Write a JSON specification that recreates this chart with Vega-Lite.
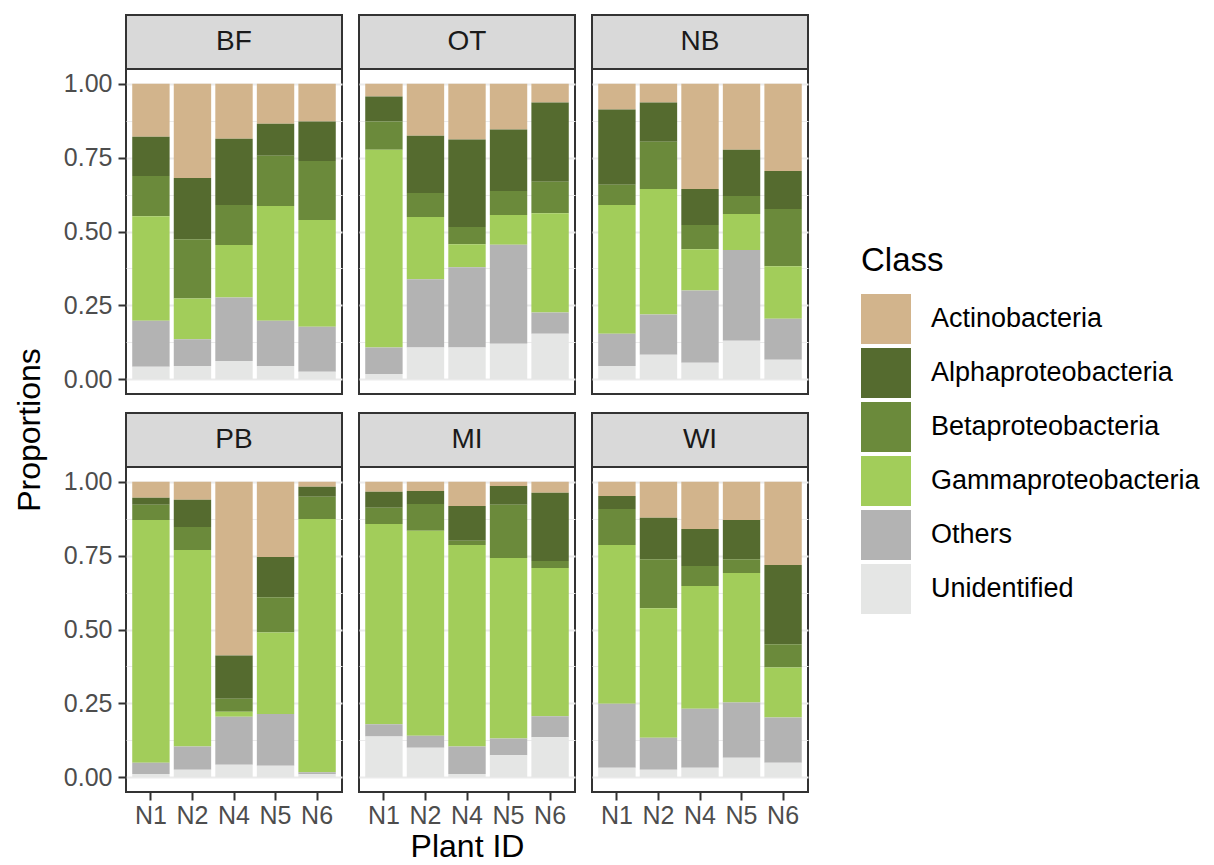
{
"$schema": "https://vega.github.io/schema/vega-lite/v6.json",
"padding": {"left": 14, "top": 14, "right": 0, "bottom": 0},
"autosize": {"type": "pad"},
"datasets": {"bars": [
{"Site":"BF","Plant":"N1","Actinobacteria":0.179,"Alphaproteobacteria":0.133,"Betaproteobacteria":0.136,"Gammaproteobacteria":0.354,"Others":0.156,"Unidentified":0.042},
{"Site":"BF","Plant":"N2","Actinobacteria":0.319,"Alphaproteobacteria":0.207,"Betaproteobacteria":0.201,"Gammaproteobacteria":0.138,"Others":0.090,"Unidentified":0.045},
{"Site":"BF","Plant":"N4","Actinobacteria":0.186,"Alphaproteobacteria":0.224,"Betaproteobacteria":0.136,"Gammaproteobacteria":0.177,"Others":0.215,"Unidentified":0.062},
{"Site":"BF","Plant":"N5","Actinobacteria":0.135,"Alphaproteobacteria":0.109,"Betaproteobacteria":0.170,"Gammaproteobacteria":0.388,"Others":0.153,"Unidentified":0.045},
{"Site":"BF","Plant":"N6","Actinobacteria":0.128,"Alphaproteobacteria":0.133,"Betaproteobacteria":0.200,"Gammaproteobacteria":0.361,"Others":0.153,"Unidentified":0.025},
{"Site":"OT","Plant":"N1","Actinobacteria":0.043,"Alphaproteobacteria":0.085,"Betaproteobacteria":0.095,"Gammaproteobacteria":0.670,"Others":0.089,"Unidentified":0.018},
{"Site":"OT","Plant":"N2","Actinobacteria":0.176,"Alphaproteobacteria":0.194,"Betaproteobacteria":0.081,"Gammaproteobacteria":0.211,"Others":0.231,"Unidentified":0.107},
{"Site":"OT","Plant":"N4","Actinobacteria":0.189,"Alphaproteobacteria":0.296,"Betaproteobacteria":0.058,"Gammaproteobacteria":0.078,"Others":0.272,"Unidentified":0.107},
{"Site":"OT","Plant":"N5","Actinobacteria":0.155,"Alphaproteobacteria":0.208,"Betaproteobacteria":0.081,"Gammaproteobacteria":0.101,"Others":0.335,"Unidentified":0.120},
{"Site":"OT","Plant":"N6","Actinobacteria":0.063,"Alphaproteobacteria":0.269,"Betaproteobacteria":0.106,"Gammaproteobacteria":0.336,"Others":0.072,"Unidentified":0.154},
{"Site":"NB","Plant":"N1","Actinobacteria":0.087,"Alphaproteobacteria":0.255,"Betaproteobacteria":0.068,"Gammaproteobacteria":0.436,"Others":0.109,"Unidentified":0.045},
{"Site":"NB","Plant":"N2","Actinobacteria":0.063,"Alphaproteobacteria":0.133,"Betaproteobacteria":0.160,"Gammaproteobacteria":0.425,"Others":0.136,"Unidentified":0.083},
{"Site":"NB","Plant":"N4","Actinobacteria":0.356,"Alphaproteobacteria":0.122,"Betaproteobacteria":0.082,"Gammaproteobacteria":0.140,"Others":0.244,"Unidentified":0.056},
{"Site":"NB","Plant":"N5","Actinobacteria":0.223,"Alphaproteobacteria":0.157,"Betaproteobacteria":0.061,"Gammaproteobacteria":0.122,"Others":0.307,"Unidentified":0.130},
{"Site":"NB","Plant":"N6","Actinobacteria":0.295,"Alphaproteobacteria":0.129,"Betaproteobacteria":0.194,"Gammaproteobacteria":0.177,"Others":0.139,"Unidentified":0.066},
{"Site":"PB","Plant":"N1","Actinobacteria":0.054,"Alphaproteobacteria":0.024,"Betaproteobacteria":0.051,"Gammaproteobacteria":0.822,"Others":0.038,"Unidentified":0.011},
{"Site":"PB","Plant":"N2","Actinobacteria":0.061,"Alphaproteobacteria":0.092,"Betaproteobacteria":0.078,"Gammaproteobacteria":0.665,"Others":0.079,"Unidentified":0.025},
{"Site":"PB","Plant":"N4","Actinobacteria":0.588,"Alphaproteobacteria":0.146,"Betaproteobacteria":0.044,"Gammaproteobacteria":0.017,"Others":0.163,"Unidentified":0.042},
{"Site":"PB","Plant":"N5","Actinobacteria":0.255,"Alphaproteobacteria":0.136,"Betaproteobacteria":0.119,"Gammaproteobacteria":0.276,"Others":0.175,"Unidentified":0.039},
{"Site":"PB","Plant":"N6","Actinobacteria":0.017,"Alphaproteobacteria":0.034,"Betaproteobacteria":0.075,"Gammaproteobacteria":0.857,"Others":0.007,"Unidentified":0.010},
{"Site":"MI","Plant":"N1","Actinobacteria":0.034,"Alphaproteobacteria":0.054,"Betaproteobacteria":0.055,"Gammaproteobacteria":0.678,"Others":0.041,"Unidentified":0.138},
{"Site":"MI","Plant":"N2","Actinobacteria":0.031,"Alphaproteobacteria":0.044,"Betaproteobacteria":0.091,"Gammaproteobacteria":0.694,"Others":0.040,"Unidentified":0.100},
{"Site":"MI","Plant":"N4","Actinobacteria":0.082,"Alphaproteobacteria":0.118,"Betaproteobacteria":0.014,"Gammaproteobacteria":0.682,"Others":0.093,"Unidentified":0.011},
{"Site":"MI","Plant":"N5","Actinobacteria":0.014,"Alphaproteobacteria":0.064,"Betaproteobacteria":0.180,"Gammaproteobacteria":0.611,"Others":0.057,"Unidentified":0.074},
{"Site":"MI","Plant":"N6","Actinobacteria":0.037,"Alphaproteobacteria":0.231,"Betaproteobacteria":0.024,"Gammaproteobacteria":0.502,"Others":0.071,"Unidentified":0.135},
{"Site":"WI","Plant":"N1","Actinobacteria":0.048,"Alphaproteobacteria":0.044,"Betaproteobacteria":0.122,"Gammaproteobacteria":0.537,"Others":0.217,"Unidentified":0.032},
{"Site":"WI","Plant":"N2","Actinobacteria":0.122,"Alphaproteobacteria":0.140,"Betaproteobacteria":0.166,"Gammaproteobacteria":0.438,"Others":0.109,"Unidentified":0.025},
{"Site":"WI","Plant":"N4","Actinobacteria":0.160,"Alphaproteobacteria":0.125,"Betaproteobacteria":0.068,"Gammaproteobacteria":0.415,"Others":0.200,"Unidentified":0.032},
{"Site":"WI","Plant":"N5","Actinobacteria":0.129,"Alphaproteobacteria":0.133,"Betaproteobacteria":0.047,"Gammaproteobacteria":0.438,"Others":0.187,"Unidentified":0.066},
{"Site":"WI","Plant":"N6","Actinobacteria":0.282,"Alphaproteobacteria":0.268,"Betaproteobacteria":0.079,"Gammaproteobacteria":0.169,"Others":0.153,"Unidentified":0.049}
]},
"hconcat": [
{"data": {"values": [{"t": "Proportions"}]}, "width": 30, "height": 830, "view": {"stroke": null},
 "mark": {"type": "text", "angle": 270, "fontSize": 32, "color": "#000000", "baseline": "middle", "align": "center"},
 "encoding": {"text": {"field": "t"}}},
{"vconcat": [
 {"hconcat": [
  {"bounds": "flush", "spacing": 0, "vconcat": [
   {"data": {"values": [{"Site": "BF"}]}, "width": 216, "height": 54, "view": {"fill": "#d9d9d9", "stroke": "#333333", "strokeWidth": 2},
    "mark": {"type": "text", "fontSize": 28, "color": "#1a1a1a"}, "encoding": {"text": {"field": "Site"}}},
   {"data": {"name": "bars"}, "transform": [{"filter": "datum.Site == 'BF'"}, {"fold": ["Actinobacteria","Alphaproteobacteria","Betaproteobacteria","Gammaproteobacteria","Others","Unidentified"], "as": ["Class","Proportion"]}],
    "width": 216, "height": 325, "view": {"stroke": "#333333", "strokeWidth": 2}, "mark": {"type": "bar"},
    "encoding": {
     "x": {"field": "Plant", "type": "nominal", "scale": {"paddingInner": 0.1, "paddingOuter": 0.15}, "axis": {"labels": false, "ticks": false, "title": null, "bandPosition": 0.5}},
     "y": {"field": "Proportion", "type": "quantitative", "stack": "zero", "scale": {"domain": [-0.05, 1.05], "nice": false, "zero": false},
      "axis": {"values": [0,0.125,0.25,0.375,0.5,0.625,0.75,0.875,1], "labelExpr": "datum.value * 4 % 1 == 0 ? format(datum.value, '.2f') : ''", "tickOpacity": {"condition": {"test": "datum.value * 4 % 1 != 0", "value": 0}, "value": 1}, "gridWidth": {"condition": {"test": "datum.value * 4 % 1 != 0", "value": 1}, "value": 2}, "title": null}},
     "color": {"field": "Class", "type": "nominal", "title": "Class", "scale": {"domain": ["Actinobacteria","Alphaproteobacteria","Betaproteobacteria","Gammaproteobacteria","Others","Unidentified"], "range": ["#d2b48c","#556b2f","#6b8a3b","#a2cd5a","#b3b3b3","#e5e6e5"]}},
     "order": {"field": "Class", "sort": "descending"}}}
  ]},
  {"bounds": "flush", "spacing": 0, "vconcat": [
   {"data": {"values": [{"Site": "OT"}]}, "width": 216, "height": 54, "view": {"fill": "#d9d9d9", "stroke": "#333333", "strokeWidth": 2},
    "mark": {"type": "text", "fontSize": 28, "color": "#1a1a1a"}, "encoding": {"text": {"field": "Site"}}},
   {"data": {"name": "bars"}, "transform": [{"filter": "datum.Site == 'OT'"}, {"fold": ["Actinobacteria","Alphaproteobacteria","Betaproteobacteria","Gammaproteobacteria","Others","Unidentified"], "as": ["Class","Proportion"]}],
    "width": 216, "height": 325, "view": {"stroke": "#333333", "strokeWidth": 2}, "mark": {"type": "bar"},
    "encoding": {
     "x": {"field": "Plant", "type": "nominal", "scale": {"paddingInner": 0.1, "paddingOuter": 0.15}, "axis": {"labels": false, "ticks": false, "title": null, "bandPosition": 0.5}},
     "y": {"field": "Proportion", "type": "quantitative", "stack": "zero", "scale": {"domain": [-0.05, 1.05], "nice": false, "zero": false},
      "axis": {"values": [0,0.125,0.25,0.375,0.5,0.625,0.75,0.875,1], "labels": false, "ticks": false, "gridWidth": {"condition": {"test": "datum.value * 4 % 1 != 0", "value": 1}, "value": 2}, "title": null}},
     "color": {"field": "Class", "type": "nominal", "title": "Class", "scale": {"domain": ["Actinobacteria","Alphaproteobacteria","Betaproteobacteria","Gammaproteobacteria","Others","Unidentified"], "range": ["#d2b48c","#556b2f","#6b8a3b","#a2cd5a","#b3b3b3","#e5e6e5"]}},
     "order": {"field": "Class", "sort": "descending"}}}
  ]},
  {"bounds": "flush", "spacing": 0, "vconcat": [
   {"data": {"values": [{"Site": "NB"}]}, "width": 216, "height": 54, "view": {"fill": "#d9d9d9", "stroke": "#333333", "strokeWidth": 2},
    "mark": {"type": "text", "fontSize": 28, "color": "#1a1a1a"}, "encoding": {"text": {"field": "Site"}}},
   {"data": {"name": "bars"}, "transform": [{"filter": "datum.Site == 'NB'"}, {"fold": ["Actinobacteria","Alphaproteobacteria","Betaproteobacteria","Gammaproteobacteria","Others","Unidentified"], "as": ["Class","Proportion"]}],
    "width": 216, "height": 325, "view": {"stroke": "#333333", "strokeWidth": 2}, "mark": {"type": "bar"},
    "encoding": {
     "x": {"field": "Plant", "type": "nominal", "scale": {"paddingInner": 0.1, "paddingOuter": 0.15}, "axis": {"labels": false, "ticks": false, "title": null, "bandPosition": 0.5}},
     "y": {"field": "Proportion", "type": "quantitative", "stack": "zero", "scale": {"domain": [-0.05, 1.05], "nice": false, "zero": false},
      "axis": {"values": [0,0.125,0.25,0.375,0.5,0.625,0.75,0.875,1], "labels": false, "ticks": false, "gridWidth": {"condition": {"test": "datum.value * 4 % 1 != 0", "value": 1}, "value": 2}, "title": null}},
     "color": {"field": "Class", "type": "nominal", "title": "Class", "scale": {"domain": ["Actinobacteria","Alphaproteobacteria","Betaproteobacteria","Gammaproteobacteria","Others","Unidentified"], "range": ["#d2b48c","#556b2f","#6b8a3b","#a2cd5a","#b3b3b3","#e5e6e5"]}},
     "order": {"field": "Class", "sort": "descending"}}}
  ]}
 ]},
 {"hconcat": [
  {"bounds": "flush", "spacing": 0, "vconcat": [
   {"data": {"values": [{"Site": "PB"}]}, "width": 216, "height": 54, "view": {"fill": "#d9d9d9", "stroke": "#333333", "strokeWidth": 2},
    "mark": {"type": "text", "fontSize": 28, "color": "#1a1a1a"}, "encoding": {"text": {"field": "Site"}}},
   {"data": {"name": "bars"}, "transform": [{"filter": "datum.Site == 'PB'"}, {"fold": ["Actinobacteria","Alphaproteobacteria","Betaproteobacteria","Gammaproteobacteria","Others","Unidentified"], "as": ["Class","Proportion"]}],
    "width": 216, "height": 325, "view": {"stroke": "#333333", "strokeWidth": 2}, "mark": {"type": "bar"},
    "encoding": {
     "x": {"field": "Plant", "type": "nominal", "scale": {"paddingInner": 0.1, "paddingOuter": 0.15}, "axis": {"labelAngle": 0, "title": null, "bandPosition": 0.5}},
     "y": {"field": "Proportion", "type": "quantitative", "stack": "zero", "scale": {"domain": [-0.05, 1.05], "nice": false, "zero": false},
      "axis": {"values": [0,0.125,0.25,0.375,0.5,0.625,0.75,0.875,1], "labelExpr": "datum.value * 4 % 1 == 0 ? format(datum.value, '.2f') : ''", "tickOpacity": {"condition": {"test": "datum.value * 4 % 1 != 0", "value": 0}, "value": 1}, "gridWidth": {"condition": {"test": "datum.value * 4 % 1 != 0", "value": 1}, "value": 2}, "title": null}},
     "color": {"field": "Class", "type": "nominal", "title": "Class", "scale": {"domain": ["Actinobacteria","Alphaproteobacteria","Betaproteobacteria","Gammaproteobacteria","Others","Unidentified"], "range": ["#d2b48c","#556b2f","#6b8a3b","#a2cd5a","#b3b3b3","#e5e6e5"]}},
     "order": {"field": "Class", "sort": "descending"}}}
  ]},
  {"bounds": "flush", "spacing": 0, "vconcat": [
   {"data": {"values": [{"Site": "MI"}]}, "width": 216, "height": 54, "view": {"fill": "#d9d9d9", "stroke": "#333333", "strokeWidth": 2},
    "mark": {"type": "text", "fontSize": 28, "color": "#1a1a1a"}, "encoding": {"text": {"field": "Site"}}},
   {"data": {"name": "bars"}, "transform": [{"filter": "datum.Site == 'MI'"}, {"fold": ["Actinobacteria","Alphaproteobacteria","Betaproteobacteria","Gammaproteobacteria","Others","Unidentified"], "as": ["Class","Proportion"]}],
    "width": 216, "height": 325, "view": {"stroke": "#333333", "strokeWidth": 2}, "mark": {"type": "bar"},
    "encoding": {
     "x": {"field": "Plant", "type": "nominal", "scale": {"paddingInner": 0.1, "paddingOuter": 0.15}, "axis": {"labelAngle": 0, "title": "Plant ID", "bandPosition": 0.5}},
     "y": {"field": "Proportion", "type": "quantitative", "stack": "zero", "scale": {"domain": [-0.05, 1.05], "nice": false, "zero": false},
      "axis": {"values": [0,0.125,0.25,0.375,0.5,0.625,0.75,0.875,1], "labels": false, "ticks": false, "gridWidth": {"condition": {"test": "datum.value * 4 % 1 != 0", "value": 1}, "value": 2}, "title": null}},
     "color": {"field": "Class", "type": "nominal", "title": "Class", "scale": {"domain": ["Actinobacteria","Alphaproteobacteria","Betaproteobacteria","Gammaproteobacteria","Others","Unidentified"], "range": ["#d2b48c","#556b2f","#6b8a3b","#a2cd5a","#b3b3b3","#e5e6e5"]}},
     "order": {"field": "Class", "sort": "descending"}}}
  ]},
  {"bounds": "flush", "spacing": 0, "vconcat": [
   {"data": {"values": [{"Site": "WI"}]}, "width": 216, "height": 54, "view": {"fill": "#d9d9d9", "stroke": "#333333", "strokeWidth": 2},
    "mark": {"type": "text", "fontSize": 28, "color": "#1a1a1a"}, "encoding": {"text": {"field": "Site"}}},
   {"data": {"name": "bars"}, "transform": [{"filter": "datum.Site == 'WI'"}, {"fold": ["Actinobacteria","Alphaproteobacteria","Betaproteobacteria","Gammaproteobacteria","Others","Unidentified"], "as": ["Class","Proportion"]}],
    "width": 216, "height": 325, "view": {"stroke": "#333333", "strokeWidth": 2}, "mark": {"type": "bar"},
    "encoding": {
     "x": {"field": "Plant", "type": "nominal", "scale": {"paddingInner": 0.1, "paddingOuter": 0.15}, "axis": {"labelAngle": 0, "title": null, "bandPosition": 0.5}},
     "y": {"field": "Proportion", "type": "quantitative", "stack": "zero", "scale": {"domain": [-0.05, 1.05], "nice": false, "zero": false},
      "axis": {"values": [0,0.125,0.25,0.375,0.5,0.625,0.75,0.875,1], "labels": false, "ticks": false, "gridWidth": {"condition": {"test": "datum.value * 4 % 1 != 0", "value": 1}, "value": 2}, "title": null}},
     "color": {"field": "Class", "type": "nominal", "title": "Class", "scale": {"domain": ["Actinobacteria","Alphaproteobacteria","Betaproteobacteria","Gammaproteobacteria","Others","Unidentified"], "range": ["#d2b48c","#556b2f","#6b8a3b","#a2cd5a","#b3b3b3","#e5e6e5"]}},
     "order": {"field": "Class", "sort": "descending"}}}
  ]}
 ]}
], "spacing": 17}
],
"spacing": 16,
"config": {
 "font": "Liberation Sans",
 "view": {"stroke": null},
 "concat": {"spacing": 15},
 "axis": {"domain": false, "gridColor": "#ebebeb", "labelColor": "#4d4d4d", "labelFontSize": 25, "tickColor": "#333333", "tickSize": 8, "tickWidth": 2, "labelPadding": 6, "titleFontWeight": "normal", "titleColor": "#000000", "titleFontSize": 32, "titlePadding": 3},
 "axisX": {"labelPadding": 3},
 "legend": {"orient": "none", "legendX": 846, "legendY": 230, "padding": 0, "titleFontSize": 33, "titleFontWeight": "normal", "titleColor": "#000000", "titlePadding": 16, "labelFontSize": 27, "labelLimit": 500, "labelColor": "#000000", "symbolType": "square", "symbolSize": 2500, "symbolStrokeWidth": 0, "symbolOpacity": 1, "rowPadding": 4, "labelOffset": 20}
}
}
